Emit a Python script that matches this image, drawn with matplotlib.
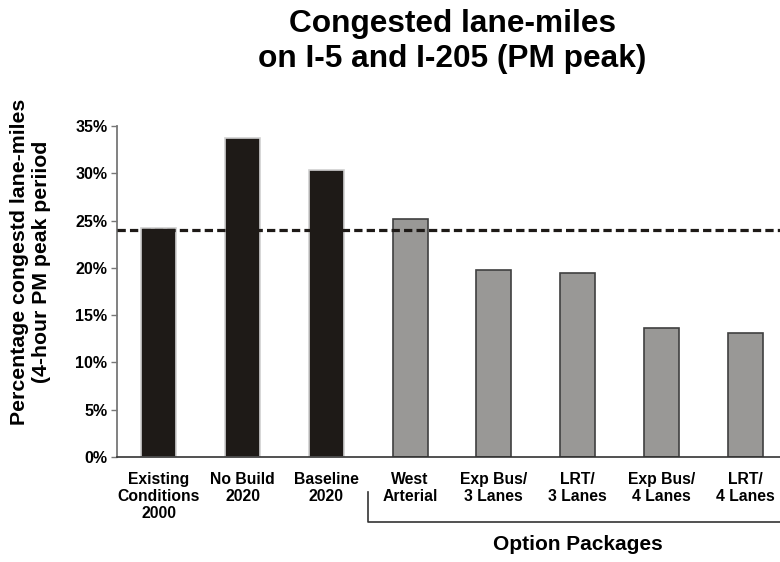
import matplotlib
matplotlib.use("Agg")
import matplotlib.pyplot as plt
from matplotlib.transforms import blended_transform_factory

plt.rcParams['font.family'] = ['Liberation Sans', 'DejaVu Sans']
plt.rcParams['font.weight'] = 'bold'

# data
categories = ['Existing\nConditions\n2000', 'No Build\n2020', 'Baseline\n2020',
              'West\nArterial', 'Exp Bus/\n3 Lanes', 'LRT/\n3 Lanes',
              'Exp Bus/\n4 Lanes', 'LRT/\n4 Lanes']
values = [24.2, 33.7, 30.4, 25.2, 19.8, 19.5, 13.6, 13.1]
is_option = [False, False, False, True, True, True, True, True]
existing_level = 24.0
yticks = [0, 5, 10, 15, 20, 25, 30, 35]
ytick_labels = ['0%', '5%', '10%', '15%', '20%', '25%', '30%', '35%']

fig = plt.figure(figsize=(7.8, 5.62), dpi=100)
ax = fig.add_axes([117 / 780, 1 - 457 / 562, 670 / 780, 331 / 562])

x = list(range(len(values)))
fills = ['#999896' if o else '#1e1a17' for o in is_option]
edges = ['#404040' if o else '#d0d0d0' for o in is_option]
ax.bar(x, values, width=0.42, color=fills, edgecolor=edges, linewidth=1.2, zorder=2)

ax.plot([-0.5, 7.5], [existing_level, existing_level], color='#1e1a17',
        lw=2.3, ls=(0, (2.6, 1.3)), zorder=3, clip_on=False)

ax.set_xlim(-0.5, 7.5)
ax.set_ylim(0, 35)
ax.set_yticks(yticks)
ax.set_yticklabels(ytick_labels, fontsize=11.5, fontweight='bold')
ax.set_xticks(x)
ax.set_xticklabels(categories, fontsize=11.3, fontweight='bold', linespacing=1.15)
ax.tick_params(axis='x', length=0, pad=11)
ax.tick_params(axis='y', length=4, width=1, color='#777777', pad=3)

for s in ['top', 'right']:
    ax.spines[s].set_visible(False)
ax.spines['left'].set_color('#777777')
ax.spines['left'].set_linewidth(1.3)
ax.spines['bottom'].set_color('#333333')
ax.spines['bottom'].set_linewidth(1.2)

# bracket under the option packages
tr = blended_transform_factory(ax.transData, ax.transAxes)
ax.plot([2.5, 2.5, 7.6], [-0.105, -0.196, -0.196], color='#333333', lw=1.2,
        transform=tr, clip_on=False)
ax.text(5.0, -0.265, 'Option Packages', transform=tr, ha='center', va='center',
        fontsize=15, fontweight='bold')

fig.text(452 / 780, 1 - 9 / 562, 'Congested lane-miles\non I-5 and I-205 (PM peak)',
         ha='center', va='top', fontsize=22.8, fontweight='bold', linespacing=1.22)

fig.text(31 / 780, 1 - 262 / 562, 'Percentage congestd lane-miles\n(4-hour PM peak periiod',
         rotation=90, ha='center', va='center', multialignment='center',
         fontsize=15.3, fontweight='bold', linespacing=1.2)

fig.savefig('out.png', dpi=100)
